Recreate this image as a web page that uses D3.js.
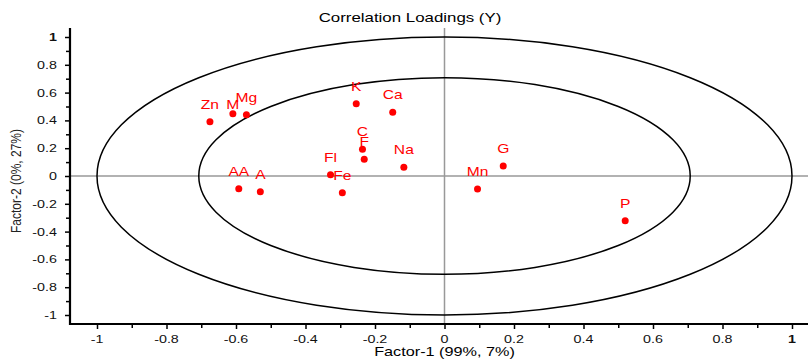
<!DOCTYPE html>
<html>
<head>
<meta charset="utf-8">
<script src="https://cdn.jsdelivr.net/npm/d3@7"></script>
<style>
  html, body { margin: 0; padding: 0; background: #fff; }
  svg { display: block; }
  text { font-family: "Liberation Sans", Arial, sans-serif; }
</style>
</head>
<body>
<svg id="chart" width="808" height="363"></svg>
<script>
// ---- data ----
const names   = ["Zn", "M", "Mg", "K", "Ca", "C", "F", "Na", "Fl", "Fe", "AA", "A", "G", "Mn", "P"];
const factor1 = [-0.675, -0.609, -0.570, -0.254, -0.149, -0.236, -0.231, -0.117, -0.328, -0.294, -0.592, -0.530, 0.169, 0.095, 0.520];
const factor2 = [0.391, 0.448, 0.441, 0.520, 0.458, 0.192, 0.120, 0.063, 0.009, -0.120, -0.091, -0.113, 0.072, -0.094, -0.322];
const majorTicks = [-1, -0.8, -0.6, -0.4, -0.2, 0, 0.2, 0.4, 0.6, 0.8, 1];
const tickLabels = ["-1", "-0.8", "-0.6", "-0.4", "-0.2", "0", "0.2", "0.4", "0.6", "0.8", "1"];
const minorTicks = [-0.9, -0.7, -0.5, -0.3, -0.1, 0.1, 0.3, 0.5, 0.7, 0.9];
const ellipseRadii = [1, Math.SQRT1_2];
const title = "Correlation Loadings (Y)";
const xTitle = "Factor-1 (99%, 7%)";
const yTitle = "Factor-2 (0%, 27%)";

// ---- layout ----
const svg = d3.select("#chart");
const axisX0 = 70, axisYb = 324, plotTop = 28, plotRight = 808;
const x = d3.scaleLinear().domain([-1, 1]).range([97, 792]);
const y = d3.scaleLinear().domain([-1, 1]).range([315, 37]);
const SX = 1.3; // horizontal stretch of the text in the reference

function stretchedText(g, tx, ty, str, opts) {
  const t = g.append("text")
    .attr("transform", `translate(${tx},${ty}) scale(${opts.sx || SX},1)` + (opts.rotate ? ` rotate(${opts.rotate})` : ""))
    .attr("text-anchor", opts.anchor || "middle")
    .attr("font-size", opts.size || 12)
    .attr("fill", opts.fill || "#000")
    .text(str);
  if (opts.weight) t.attr("font-weight", opts.weight);
  if (opts.dy) t.attr("dy", opts.dy);
  return t;
}

// zero lines
svg.append("line").attr("x1", x(0)).attr("x2", x(0)).attr("y1", plotTop).attr("y2", axisYb)
  .attr("stroke", "#999").attr("stroke-width", 1.5);
svg.append("line").attr("x1", axisX0).attr("x2", plotRight).attr("y1", y(0)).attr("y2", y(0))
  .attr("stroke", "#999").attr("stroke-width", 1.5);

// ellipses
svg.selectAll("ellipse.ring").data(ellipseRadii).join("ellipse")
  .attr("class", "ring")
  .attr("cx", x(0)).attr("cy", y(0))
  .attr("rx", r => x(r) - x(0))
  .attr("ry", r => y(0) - y(r))
  .attr("fill", "none").attr("stroke", "#000").attr("stroke-width", 1.5);

// axes ticks
const gy = svg.append("g").attr("transform", `translate(${axisX0},0)`);
gy.call(d3.axisLeft(y).tickValues(majorTicks).tickSize(5).tickFormat(""));
gy.append("g").call(d3.axisLeft(y).tickValues(minorTicks).tickSize(4).tickFormat(""));
gy.selectAll(".domain").remove();
gy.selectAll("line").attr("stroke", "#000").attr("stroke-width", 1.5);

const gx = svg.append("g").attr("transform", `translate(0,${axisYb})`);
gx.call(d3.axisBottom(x).tickValues(majorTicks).tickSize(5).tickFormat(""));
gx.append("g").call(d3.axisBottom(x).tickValues(minorTicks).tickSize(4).tickFormat(""));
gx.selectAll(".domain").remove();
gx.selectAll("line").attr("stroke", "#000").attr("stroke-width", 1.5);

// axis lines
svg.append("line").attr("x1", axisX0).attr("x2", axisX0).attr("y1", plotTop).attr("y2", axisYb + 1)
  .attr("stroke", "#000").attr("stroke-width", 2.2);
svg.append("line").attr("x1", axisX0 - 1).attr("x2", plotRight).attr("y1", axisYb).attr("y2", axisYb)
  .attr("stroke", "#000").attr("stroke-width", 2.2);

// tick labels
const tl = svg.append("g");
majorTicks.forEach((v, i) => {
  const bold = v === 1 ? "bold" : null;
  stretchedText(tl, 57, y(v), tickLabels[i], { anchor: "end", size: 11, dy: "0.36em", weight: bold, fill: "#111" });
  stretchedText(tl, x(v), 343, tickLabels[i], { anchor: "middle", size: 11, weight: bold, fill: "#111" });
});

// titles
stretchedText(svg, 410, 22, title, { size: 12.5, sx: 1.35 });
stretchedText(svg, x(0), 356, xTitle, { size: 12.5, sx: 1.3 });
stretchedText(svg, 21, 181, yTitle, { size: 12, sx: 1.15, rotate: -90, fill: "#222" });

// points
const pts = names.map((n, i) => ({ name: n, fx: factor1[i], fy: factor2[i] }));
svg.selectAll("circle.pt").data(pts).join("circle")
  .attr("class", "pt")
  .attr("cx", d => x(d.fx)).attr("cy", d => y(d.fy))
  .attr("r", 3.5).attr("fill", "#ff0000");

const labelGap = d => (d.name === "M" ? 4.5 : 13);
const lg = svg.append("g");
pts.forEach(d => {
  stretchedText(lg, x(d.fx), y(d.fy) - labelGap(d), d.name, { size: 12.5, sx: 1.25, fill: "#ff0000" });
});
</script>
</body>
</html>
